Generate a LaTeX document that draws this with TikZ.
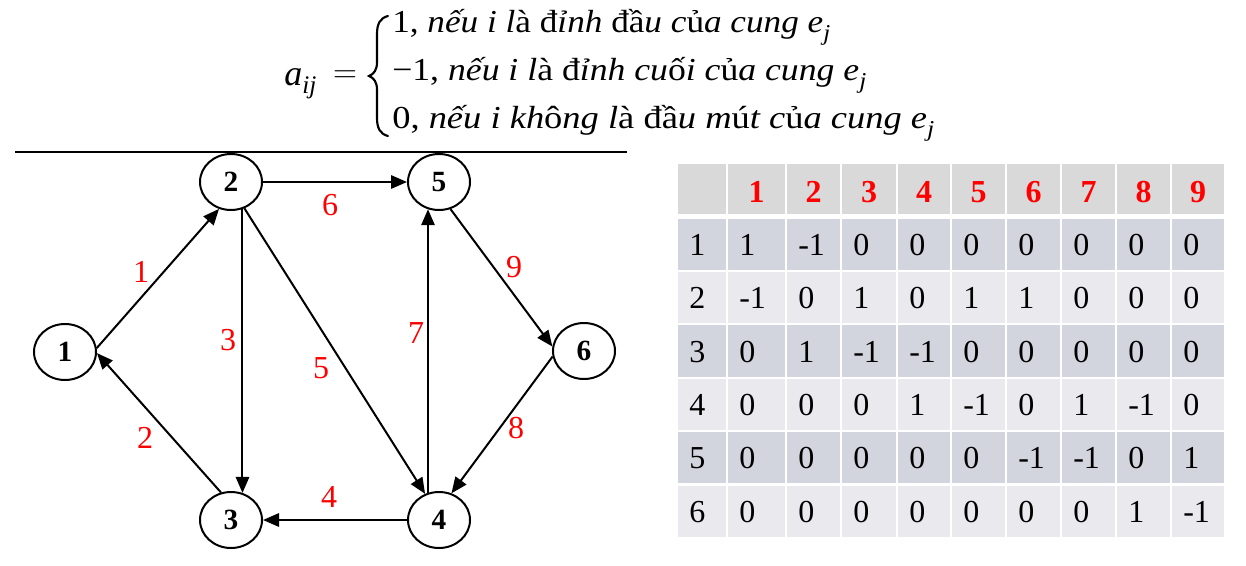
\documentclass[tikz,border=0pt]{standalone}
\usepackage{fontspec}
\usepackage{graphicx}
\setmainfont{Liberation Serif}
\usetikzlibrary{arrows.meta,shapes.geometric}
\definecolor{lblred}{RGB}{255,0,0}
\definecolor{hdrfill}{RGB}{217,217,217}
\definecolor{oddfill}{RGB}{211,213,222}
\definecolor{evenfill}{RGB}{233,233,238}
\newcommand{\myU}[1]{{\upshape #1}}
\newcommand{\mySub}[1]{\raisebox{-6pt}{\fontsize{17}{20}\selectfont\itshape #1}}
\begin{document}
\begin{tikzpicture}[x=0.75pt,y=-0.75pt,
  vtx/.style={ellipse,draw,line width=1.5pt,minimum width=46.5pt,minimum height=42pt,inner sep=0pt,font=\fontsize{22}{26}\selectfont\bfseries},
  arr/.style={line width=1.5pt,-{Triangle[length=12pt,width=10pt]}},
  elbl/.style={inner sep=0pt,text=lblred,font=\fontsize{24}{28}\selectfont},
  fline/.style={anchor=base west,inner sep=0pt,font=\fontsize{24}{28}\selectfont\itshape},
  cell/.style={anchor=base west,inner sep=0pt,font=\fontsize{24}{28}\selectfont},
  hcell/.style={anchor=base,inner sep=0pt,text=lblred,font=\fontsize{24}{28}\selectfont\bfseries}]
\useasboundingbox (0,0) rectangle (1246,565);
% formula
\node[fline] (faij) at (284,85) {\fontsize{27}{30}\selectfont a\raisebox{-6pt}{\fontsize{19}{22}\selectfont\itshape ij}};
\node[inner sep=0pt,font=\fontsize{26}{30}\selectfont] (feq) at (345,77) {$=$};
\draw[line width=1.6pt,line cap=round] (388,16) .. controls (380,18) and (377,24) .. (377,34)
  -- (377,62) .. controls (377,70) and (374,74) .. (369,76)
  .. controls (374,78) and (377,82) .. (377,90)
  -- (377,118) .. controls (377,128) and (380,134) .. (388,136);
\node[fline] (fl1) at (392,32) {\scalebox{1.1}[1]{\myU{1,} nếu i l\myU{à đ}ỉnh \myU{đầ}u c\myU{ủ}a cung e\mySub{j}}};
\node[fline] (fl2) at (392,80) {\scalebox{1.115}[1]{\myU{−1,} nếu i l\myU{à đ}ỉnh cu\myU{ố}i c\myU{ủ}a cung e\mySub{j}}};
\node[fline] (fl3) at (392,128) {\scalebox{1.14}[1]{\myU{0,} nếu i kh\myU{ô}ng l\myU{à đầ}u m\myU{ú}t c\myU{ủ}a cung e\mySub{j}}};
% rule
\coordinate (r0) at (15,152);
\coordinate (r1) at (627,152);
\draw[line width=1.1pt] (r0) -- (r1);
% graph
\node[vtx] (n1) at (65,352) {1};
\node[vtx] (n2) at (231,182) {2};
\node[vtx] (n3) at (231,520) {3};
\node[vtx] (n4) at (439,520) {4};
\node[vtx] (n5) at (439,182) {5};
\node[vtx] (n6) at (584,351) {6};
\draw[arr] (n1.7) -- (n2.246);
\draw[arr] (n3.110) -- (n1.-2);
\draw[arr] (n2.-67) -- (n3.67);
\draw[arr] (n4.180) -- (n3.0);
\draw[arr] (n2.-63) -- (n4.118);
\draw[arr] (n2.0) -- (n5.180);
\draw[arr] (n4.112) -- (n5.-112);
\draw[arr] (n6.190) -- (n4.65);
\draw[arr] (n5.-67) -- (n6.172);
\node[elbl] (l1) at (141,272) {1};
\node[elbl] (l2) at (145,438) {2};
\node[elbl] (l3) at (228,340) {3};
\node[elbl] (l4) at (329,497) {4};
\node[elbl] (l5) at (321,368) {5};
\node[elbl] (l6) at (330,205) {6};
\node[elbl] (l7) at (416,333) {7};
\node[elbl] (l8) at (516,428) {8};
\node[elbl] (l9) at (514,267) {9};
% table
\def\colb{{677,727,786,841,897,951,1006,1061,1116,1171,1225}}
\def\rowt{{219,272,325,379,432,486}}
\def\rowb{{270,323,377,430,483,537}}
\foreach \c in {0,...,9}{
  \pgfmathtruncatemacro\cn{\c+1}
  \pgfmathsetmacro\xa{\colb[\c]}
  \pgfmathsetmacro\xb{\colb[\cn]}
  \fill[hdrfill] (\xa+1,164) rectangle (\xb-1,214);
  \ifnum\c>0
    \node[hcell] (h-\c) at ({(\xa+\xb)/2},202) {\c};
  \fi
}
\foreach \r/\vals in {1/{1,-1,0,0,0,0,0,0,0},2/{-1,0,1,0,1,1,0,0,0},3/{0,1,-1,-1,0,0,0,0,0},4/{0,0,0,1,-1,0,1,-1,0},5/{0,0,0,0,0,-1,-1,0,1},6/{0,0,0,0,0,0,0,1,-1}}{
  \pgfmathtruncatemacro\ri{\r-1}
  \pgfmathsetmacro\yt{\rowt[\ri]}
  \pgfmathsetmacro\yb{\rowb[\ri]}
  \pgfmathsetmacro\ym{(\yt+\yb)/2+11}
  \pgfmathtruncatemacro\oddq{mod(\r,2)}
  \ifnum\oddq=1 \def\rc{oddfill}\else\def\rc{evenfill}\fi
  \foreach \c in {0,...,9}{
    \pgfmathtruncatemacro\cn{\c+1}
    \pgfmathsetmacro\xa{\colb[\c]}
    \pgfmathsetmacro\xb{\colb[\cn]}
    \fill[\rc] (\xa+1,\yt) rectangle (\xb-1,\yb);
  }
  \pgfmathsetmacro\xs{\colb[0]}
  \node[cell] (t-\r-0) at (\xs+12,\ym) {\r};
  \foreach \v [count=\c] in \vals {
    \pgfmathsetmacro\xs{\colb[\c]}
    \node[cell] (t-\r-\c) at (\xs+12,\ym) {\v};
  }
}
\end{tikzpicture}
\end{document}
